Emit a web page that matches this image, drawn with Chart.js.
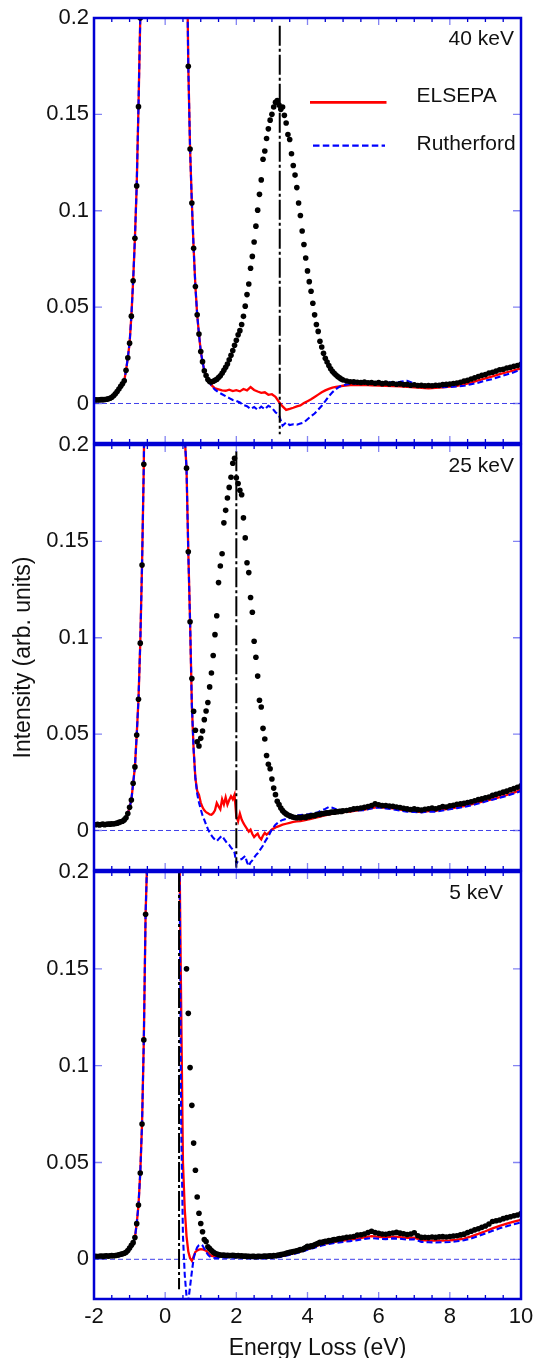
<!DOCTYPE html>
<html>
<head>
<meta charset="utf-8">
<title>Energy loss spectra</title>
<script src="https://cdn.jsdelivr.net/npm/chart.js@4"></script>
<style>
  html, body { margin: 0; padding: 0; background: #fff; }
  #figure { position: relative; width: 534px; height: 1358px; }
  #figure canvas { position: absolute; left: 0; }
</style>
</head>
<body>
<div id="figure">
  <canvas id="panel40" width="534" height="447" style="top:0px"></canvas>
  <canvas id="panel25" width="534" height="439" style="top:435px"></canvas>
  <canvas id="panel5" width="534" height="496" style="top:862px"></canvas>
</div>
<script>
// energy grid of the measured spectra (eV)
var energy = [
  -2, -1.95, -1.9, -1.85, -1.8, -1.75, -1.7, -1.65, -1.6, -1.55,
  -1.5, -1.45, -1.4, -1.35, -1.3, -1.25, -1.2, -1.15, -1.1, -1.05,
  -1, -0.95, -0.9, -0.85, -0.8, -0.75, -0.7, -0.65, -0.6, -0.55,
  -0.5, -0.45, -0.4, -0.35, -0.3, -0.25, -0.2, -0.15, -0.1, -0.05,
  0, 0.05, 0.1, 0.15, 0.2, 0.25, 0.3, 0.35, 0.4, 0.45,
  0.5, 0.55, 0.6, 0.65, 0.7, 0.75, 0.8, 0.85, 0.9, 0.95,
  1, 1.05, 1.1, 1.15, 1.2, 1.25, 1.3, 1.35, 1.4, 1.45,
  1.5, 1.55, 1.6, 1.65, 1.7, 1.75, 1.8, 1.85, 1.9, 1.95,
  2, 2.05, 2.1, 2.15, 2.2, 2.25, 2.3, 2.35, 2.4, 2.45,
  2.5, 2.55, 2.6, 2.65, 2.7, 2.75, 2.8, 2.85, 2.9, 2.95,
  3, 3.05, 3.1, 3.15, 3.2, 3.25, 3.3, 3.35, 3.4, 3.45,
  3.5, 3.55, 3.6, 3.65, 3.7, 3.75, 3.8, 3.85, 3.9, 3.95,
  4, 4.05, 4.1, 4.15, 4.2, 4.25, 4.3, 4.35, 4.4, 4.45,
  4.5, 4.55, 4.6, 4.65, 4.7, 4.75, 4.8, 4.85, 4.9, 4.95,
  5,
  5.1, 5.2, 5.3, 5.4, 5.5, 5.6, 5.7, 5.8, 5.9, 6,
  6.1, 6.2, 6.3, 6.4, 6.5, 6.6, 6.7, 6.8, 6.9, 7,
  7.1, 7.2, 7.3, 7.4, 7.5, 7.6, 7.7, 7.8, 7.9, 8,
  8.1, 8.2, 8.3, 8.4, 8.5, 8.6, 8.7, 8.8, 8.9, 9,
  9.1, 9.2, 9.3, 9.4, 9.5, 9.6, 9.7, 9.8, 9.9, 10
];

// measured intensities, 40 keV
var measured40 = [
  0.0018, 0.0019, 0.0018, 0.0019, 0.0020, 0.0020, 0.0021, 0.0022, 0.0024, 0.0027,
  0.0032, 0.0040, 0.0050, 0.0062, 0.0075, 0.0089, 0.0102, 0.0118, 0.0172, 0.0237,
  0.0313, 0.0453, 0.0637, 0.0857, 0.1129, 0.154, 0.200, 0.27, 0.36, 0.47,
  0.60, 0.75, 0.90, 1.05, 1.20, 1.33, 1.44, 1.52, 1.57, 1.60,
  1.60, 1.57, 1.51, 1.42, 1.30, 1.17, 1.02, 0.87, 0.72, 0.58,
  0.45, 0.34, 0.25, 0.175, 0.132, 0.104, 0.0805, 0.0607, 0.046, 0.036,
  0.027, 0.0217, 0.017, 0.0145, 0.0124, 0.0114, 0.0112, 0.0115, 0.0120, 0.0125,
  0.0135, 0.0144, 0.0157, 0.0172, 0.0188, 0.0205, 0.0227, 0.0250, 0.0275, 0.0302,
  0.0328, 0.0356, 0.0378, 0.0410, 0.0452, 0.0505, 0.0565, 0.0620, 0.0702, 0.0763,
  0.0838, 0.0920, 0.1003, 0.1085, 0.1160, 0.1267, 0.1310, 0.1375, 0.1425, 0.1470,
  0.1500, 0.1538, 0.1563, 0.1572, 0.1548, 0.1526, 0.1538, 0.1495, 0.1455, 0.1395,
  0.1370, 0.1296, 0.1235, 0.1185, 0.1120, 0.1040, 0.0975, 0.0895, 0.0825, 0.0755,
  0.0688, 0.0632, 0.0582, 0.0520, 0.0460, 0.0410, 0.0374, 0.0323, 0.0293, 0.0260,
  0.0235, 0.0215, 0.0197, 0.0180, 0.0167, 0.0157, 0.0148, 0.0140, 0.0133, 0.0127,
  0.0122,
  0.0117, 0.0113, 0.0112, 0.0110, 0.0109, 0.0111, 0.0107, 0.0109, 0.0105, 0.0108,
  0.0103, 0.0106, 0.0101, 0.0104, 0.0100, 0.0102, 0.0098, 0.0099, 0.0095, 0.0097,
  0.0093, 0.0094, 0.0092, 0.0093, 0.0092, 0.0095, 0.0094, 0.0098, 0.0099, 0.0101,
  0.0104, 0.0106, 0.0110, 0.0116, 0.0120, 0.0127, 0.0133, 0.0140, 0.0146, 0.0150,
  0.0158, 0.0162, 0.0168, 0.0175, 0.0178, 0.0184, 0.0188, 0.0193, 0.0197, 0.0203
];

// measured intensities, 25 keV
var measured25 = [
  0.0031, 0.0030, 0.0032, 0.0029, 0.0031, 0.0033, 0.0030, 0.0032, 0.0034, 0.0033,
  0.0035, 0.0034, 0.0036, 0.0038, 0.0042, 0.0045, 0.0048, 0.0055, 0.0066, 0.0088,
  0.0120, 0.0158, 0.0245, 0.0330, 0.0495, 0.0681, 0.0972, 0.1377, 0.190, 0.28,
  0.42, 0.60, 0.82, 1.05, 1.28, 1.50, 1.68, 1.82, 1.92, 1.98,
  2.00, 1.97, 1.90, 1.78, 1.60, 1.38, 1.12, 0.86, 0.62, 0.42,
  0.27, 0.204, 0.188, 0.1446, 0.1083, 0.0788, 0.0619, 0.0520, 0.0460, 0.0438,
  0.0478, 0.0516, 0.0575, 0.0620, 0.0664, 0.0745, 0.0817, 0.0908, 0.1016, 0.1114,
  0.1286, 0.1372, 0.1436, 0.1596, 0.1661, 0.1725, 0.1780, 0.1833, 0.1905, 0.1931,
  0.1830, 0.1800, 0.1765, 0.1742, 0.1622, 0.1518, 0.1389, 0.1338, 0.1209, 0.1132,
  0.0982, 0.0899, 0.0801, 0.0676, 0.0641, 0.0530, 0.0475, 0.0389, 0.0344, 0.0320,
  0.0267, 0.0220, 0.0186, 0.0152, 0.0134, 0.0117, 0.0103, 0.0093, 0.0086, 0.0080,
  0.0076, 0.0072, 0.0069, 0.0067, 0.0066, 0.0068, 0.0066, 0.0069, 0.0070, 0.0068,
  0.0073, 0.0072, 0.0076, 0.0078, 0.0077, 0.0082, 0.0084, 0.0083, 0.0088, 0.0087,
  0.0090, 0.0092, 0.0091, 0.0094, 0.0096, 0.0095, 0.0098, 0.0097, 0.0100, 0.0099,
  0.0102,
  0.0104, 0.0107, 0.0112, 0.0114, 0.0117, 0.0120, 0.0124, 0.0130, 0.0138, 0.0133,
  0.0129, 0.0130, 0.0127, 0.0126, 0.0122, 0.0119, 0.0115, 0.0112, 0.0109, 0.0112,
  0.0108, 0.0106, 0.0110, 0.0113, 0.0117, 0.0113, 0.0118, 0.0124, 0.0122, 0.0128,
  0.0131, 0.0136, 0.0138, 0.0141, 0.0145, 0.0149, 0.0154, 0.0160, 0.0164, 0.0170,
  0.0174, 0.0182, 0.0188, 0.0193, 0.0199, 0.0204, 0.0211, 0.0217, 0.0224, 0.0232
];

// measured intensities, 5 keV
var measured5 = [
  0.0015, 0.0016, 0.0014, 0.0016, 0.0017, 0.0015, 0.0017, 0.0018, 0.0016, 0.0018,
  0.0019, 0.0018, 0.0020, 0.0021, 0.0023, 0.0026, 0.0028, 0.0031, 0.0036, 0.0045,
  0.0058, 0.0072, 0.0086, 0.0112, 0.0184, 0.0280, 0.0446, 0.0699, 0.1133, 0.1782,
  0.21, 0.30, 0.42, 0.56, 0.70, 0.84, 0.95, 1.03, 1.08, 1.10,
  1.08, 1.03, 0.95, 0.85, 0.74, 0.62, 0.50, 0.40, 0.32, 0.27,
  0.24, 0.21, 0.150, 0.127, 0.099, 0.0795, 0.0600, 0.0460, 0.0322, 0.0238,
  0.0185, 0.0142, 0.0102, 0.0092, 0.0065, 0.0055, 0.0045, 0.0037, 0.0031, 0.0027,
  0.0024, 0.0022, 0.0021, 0.0022, 0.0020, 0.0021, 0.0019, 0.0020, 0.0021, 0.0019,
  0.0018, 0.0020, 0.0017, 0.0018, 0.0016, 0.0017, 0.0015, 0.0016, 0.0014, 0.0016,
  0.0015, 0.0013, 0.0015, 0.0016, 0.0014, 0.0016, 0.0017, 0.0015, 0.0017, 0.0018,
  0.0016, 0.0019, 0.0018, 0.0021, 0.0022, 0.0024, 0.0026, 0.0027, 0.0031, 0.0033,
  0.0036, 0.0037, 0.0040, 0.0041, 0.0044, 0.0046, 0.0050, 0.0049, 0.0055, 0.0061,
  0.0067, 0.0064, 0.0070, 0.0068, 0.0075, 0.0079, 0.0082, 0.0088, 0.0086, 0.0091,
  0.0093, 0.0092, 0.0097, 0.0096, 0.0100, 0.0102, 0.0101, 0.0105, 0.0107, 0.0106,
  0.0110,
  0.0113, 0.0115, 0.0118, 0.0125, 0.0127, 0.0131, 0.0138, 0.0145, 0.0138, 0.0134,
  0.0131, 0.0129, 0.0133, 0.0136, 0.0139, 0.0135, 0.0132, 0.0128, 0.0131, 0.0137,
  0.0122, 0.0113, 0.0114, 0.0112, 0.0115, 0.0113, 0.0116, 0.0117, 0.0115, 0.0118,
  0.0120, 0.0122, 0.0126, 0.0130, 0.0138, 0.0145, 0.0152, 0.0158, 0.0165, 0.0172,
  0.0182, 0.0195, 0.0199, 0.0203, 0.0210, 0.0215, 0.0220, 0.0225, 0.0229, 0.0236
];

// model curves after subtraction of the recoil peak (below the first energy they follow the data)
var modelEnergy40 = [
  1.2, 1.3, 1.4, 1.5, 1.6, 1.7, 1.8, 1.9, 2, 2.1,
  2.2, 2.3, 2.4, 2.5, 2.6, 2.7, 2.8, 2.9, 3, 3.1,
  3.2, 3.3, 3.4, 3.5, 3.6, 3.7, 3.8, 3.9, 4, 4.1,
  4.2, 4.3, 4.4, 4.5, 4.6, 4.7, 4.8, 4.9, 5,
  5.2, 5.4, 5.6, 5.8, 6, 6.2, 6.4, 6.6, 6.8, 7,
  7.2, 7.4, 7.6, 7.8, 8, 8.2, 8.4, 8.6, 8.8, 9,
  9.2, 9.4, 9.6, 9.8, 10
];
var elsepa40 = [
  0.0125, 0.0095, 0.0078, 0.0073, 0.0068, 0.0066, 0.0072, 0.0064, 0.0069, 0.0063,
  0.0075, 0.0068, 0.0085, 0.0070, 0.0062, 0.0055, 0.0058, 0.0045, 0.0048, 0.0035,
  0.0008, -0.0015, -0.0033, -0.0028, -0.0022, -0.0015, -0.0010, 0.0002, 0.0012, 0.0022,
  0.0034, 0.0046, 0.0058, 0.0068, 0.0076, 0.0082, 0.0086, 0.0089, 0.0092,
  0.0096, 0.0095, 0.0097, 0.0094, 0.0093, 0.0092, 0.0090, 0.0089, 0.0086, 0.0084,
  0.0081, 0.0079, 0.0081, 0.0084, 0.0087, 0.0091, 0.0099, 0.0108, 0.0120, 0.0130,
  0.0141, 0.0152, 0.0162, 0.0172, 0.0182
];
var rutherford40 = [
  0.0125, 0.0092, 0.0072, 0.0058, 0.0048, 0.0038, 0.0028, 0.0018, 0.0013, 0.0005,
  -0.0008, -0.0014, -0.0028, -0.0018, -0.0033, -0.0016, -0.0030, -0.0012, -0.0022, -0.0045,
  -0.0062, -0.0115, -0.0098, -0.0112, -0.0108, -0.0110, -0.0104, -0.0098, -0.0082, -0.0066,
  -0.0052, -0.0032, -0.0012, 0.0012, 0.0038, 0.0058, 0.0075, 0.0087, 0.0095,
  0.0102, 0.0104, 0.0106, 0.0104, 0.0107, 0.0109, 0.0110, 0.0112, 0.0118, 0.0104,
  0.0094, 0.0089, 0.0088, 0.0085, 0.0086, 0.0088, 0.0092, 0.0100, 0.0108, 0.0118,
  0.0127, 0.0139, 0.0150, 0.0162, 0.0176
];

var modelEnergy25 = [
  0.75, 0.8, 0.85, 0.9, 0.95, 1, 1.05, 1.1, 1.15, 1.2,
  1.25, 1.3, 1.35, 1.4, 1.45, 1.5, 1.55, 1.6, 1.65, 1.7,
  1.75, 1.8, 1.85, 1.9, 1.95, 2, 2.05, 2.1, 2.15, 2.2,
  2.25, 2.3, 2.35, 2.4, 2.45, 2.5, 2.55, 2.6, 2.65, 2.7,
  2.75, 2.8, 2.85, 2.9, 2.95, 3,
  3.1, 3.2, 3.3, 3.4, 3.5, 3.6, 3.7, 3.8, 3.9, 4,
  4.1, 4.2, 4.3, 4.4, 4.5, 4.6, 4.7, 4.8, 4.9, 5,
  5.2, 5.4, 5.6, 5.8, 6, 6.2, 6.4, 6.6, 6.8, 7,
  7.2, 7.4, 7.6, 7.8, 8, 8.2, 8.4, 8.6, 8.8, 9,
  9.2, 9.4, 9.6, 9.8, 10
];
var elsepa25 = [
  0.065, 0.042, 0.027, 0.0205, 0.0185, 0.0145, 0.0120, 0.0105, 0.0095, 0.0090,
  0.0083, 0.0082, 0.0090, 0.0105, 0.0143, 0.0125, 0.0110, 0.0162, 0.0135, 0.0172,
  0.0134, 0.0158, 0.0178, 0.0162, 0.0186, 0.0072, 0.0048, 0.0088, 0.0057, 0.0038,
  0.0022, 0.0008, -0.0006, 0.0004, -0.0018, -0.0034, -0.0024, -0.0016, -0.0036, -0.0046,
  -0.0026, -0.0012, -0.0022, -0.0014, -0.0004, 0.0005,
  0.0016, 0.0023, 0.0030, 0.0035, 0.0040, 0.0045, 0.0047, 0.0049, 0.0053, 0.0057,
  0.0060, 0.0065, 0.0069, 0.0074, 0.0079, 0.0083, 0.0086, 0.0090, 0.0093, 0.0095,
  0.0098, 0.0104, 0.0108, 0.0116, 0.0122, 0.0118, 0.0115, 0.0108, 0.0102, 0.0099,
  0.0096, 0.0101, 0.0102, 0.0108, 0.0114, 0.0120, 0.0127, 0.0135, 0.0144, 0.0153,
  0.0163, 0.0173, 0.0184, 0.0196, 0.0212
];
var rutherford25 = [
  0.065, 0.042, 0.027, 0.0190, 0.0145, 0.0110, 0.0078, 0.0055, 0.0030, 0.0008,
  -0.0012, -0.0025, -0.0038, -0.0048, -0.0055, -0.0045, -0.0035, -0.0028, -0.0042, -0.0055,
  -0.0068, -0.0075, -0.0089, -0.0098, -0.0115, -0.0172, -0.0158, -0.0152, -0.0148, -0.0140,
  -0.0132, -0.0165, -0.0184, -0.0165, -0.0155, -0.0141, -0.0128, -0.0118, -0.0105, -0.0092,
  -0.0078, -0.0060, -0.0045, -0.0030, -0.0012, 0.0005,
  0.0030, 0.0045, 0.0055, 0.0060, 0.0065, 0.0068, 0.0078, 0.0080, 0.0082, 0.0083,
  0.0088, 0.0090, 0.0095, 0.0105, 0.0112, 0.0122, 0.0118, 0.0110, 0.0106, 0.0104,
  0.0103, 0.0104, 0.0106, 0.0114, 0.0120, 0.0114, 0.0110, 0.0104, 0.0098, 0.0096,
  0.0094, 0.0098, 0.0098, 0.0104, 0.0110, 0.0116, 0.0122, 0.0130, 0.0140, 0.0150,
  0.0160, 0.0170, 0.0180, 0.0192, 0.0205
];

var modelEnergy5 = [
  0.35, 0.4, 0.45, 0.5, 0.55, 0.6, 0.65, 0.7, 0.75, 0.8,
  0.85, 0.9, 0.95, 1, 1.05, 1.1, 1.15, 1.2, 1.25, 1.3,
  1.4, 1.6, 1.8, 2, 2.2, 2.4, 2.6, 2.8, 3, 3.2,
  3.4, 3.6, 3.8, 4, 4.2, 4.4, 4.6, 4.8, 5, 5.2,
  5.4, 5.6, 5.8, 6, 6.2, 6.4, 6.6, 6.8, 7, 7.2,
  7.4, 7.6, 7.8, 8, 8.2, 8.4, 8.6, 8.8, 9, 9.2,
  9.4, 9.6, 9.8, 10
];
var elsepa5 = [
  0.30, 0.215, 0.13, 0.05, 0.026, 0.012, 0.004, 0.0005, -0.0008, 0.0015,
  0.0038, 0.0046, 0.0050, 0.0052, 0.0051, 0.0048, 0.0044, 0.0033, 0.0025, 0.0018,
  0.0015, 0.0014, 0.0013, 0.0013, 0.0011, 0.0010, 0.0009, 0.0010, 0.0011, 0.0014,
  0.0022, 0.0031, 0.0041, 0.0053, 0.0066, 0.0077, 0.0085, 0.0091, 0.0097, 0.0102,
  0.0107, 0.0113, 0.0120, 0.0116, 0.0113, 0.0117, 0.0115, 0.0111, 0.0112, 0.0099,
  0.0096, 0.0096, 0.0096, 0.0098, 0.0101, 0.0107, 0.0118, 0.0131, 0.0145, 0.0160,
  0.0173, 0.0184, 0.0195, 0.0204
];
var rutherford5 = [
  0.30, 0.215, 0.07, 0.012, -0.008, -0.019, -0.0215, -0.014, -0.0065, 0.0005,
  0.0038, 0.0062, 0.0073, 0.0077, 0.0071, 0.0055, 0.0039, 0.0024, 0.0015, 0.0010,
  0.0007, 0.0008, 0.0008, 0.0009, 0.0007, 0.0006, 0.0005, 0.0006, 0.0008, 0.0011,
  0.0019, 0.0027, 0.0037, 0.0049, 0.0060, 0.0071, 0.0079, 0.0085, 0.0090, 0.0094,
  0.0099, 0.0105, 0.0110, 0.0106, 0.0104, 0.0108, 0.0106, 0.0102, 0.0103, 0.0090,
  0.0088, 0.0087, 0.0088, 0.0089, 0.0093, 0.0098, 0.0108, 0.0120, 0.0133, 0.0147,
  0.0160, 0.0171, 0.0181, 0.0190
];

// panel annotations
var panelLabels = ['40 keV', '25 keV', '5 keV'];
var recoilEnergies = [3.22, 2.0, 0.39];      // dash-dot markers (eV)
var markerTop = [0.196, 0.1967, 0.2];
var markerBottom = [-0.016, -0.0193, -0.0155];
var legendLabels = ['ELSEPA', 'Rutherford'];
var xTickValues = [-2, 0, 2, 4, 6, 8, 10];
var yTickValues = [0, 0.05, 0.1, 0.15, 0.2];

var FONT = '"Liberation Sans", Arial, Helvetica, sans-serif';
var FRAME_BLUE = '#0000d4';
var TICK_LIGHT = 'rgba(50, 50, 235, 0.6)';
var TEXT = '#111';

Chart.defaults.font.family = FONT;

function panelDecor(index) {
    return {
        id: 'decor' + index,
        beforeDatasetsDraw: function (chart) {
            var ctx = chart.ctx, a = chart.chartArea, y = chart.scales.y;
            var y0 = y.getPixelForValue(0);
            ctx.save();
            ctx.strokeStyle = 'rgba(30, 30, 230, 0.85)';
            ctx.lineWidth = 1;
            ctx.setLineDash([5, 3]);
            ctx.beginPath();
            ctx.moveTo(a.left, y0);
            ctx.lineTo(a.right, y0);
            ctx.stroke();
            ctx.restore();
        },
        afterDatasetsDraw: function (chart) {
            var ctx = chart.ctx, x = chart.scales.x, y = chart.scales.y;
            var px = x.getPixelForValue(recoilEnergies[index]);
            ctx.save();
            ctx.strokeStyle = '#000';
            ctx.lineWidth = 2;
            ctx.setLineDash([20, 3, 3, 3]);
            ctx.beginPath();
            ctx.moveTo(px, y.getPixelForValue(markerTop[index]));
            ctx.lineTo(px, y.getPixelForValue(markerBottom[index]));
            ctx.stroke();
            ctx.restore();
        },
        afterDraw: function (chart) {
            var ctx = chart.ctx, a = chart.chartArea, x = chart.scales.x, y = chart.scales.y;
            ctx.save();
            // inward ticks on all four sides
            ctx.lineWidth = 1.3;
            for (var e = -1.5; e < 10; e += 0.5) {
                var px = x.getPixelForValue(e);
                var major = Math.abs(e % 2) < 1e-9;
                var len = major ? 7 : 4;
                ctx.strokeStyle = major ? TICK_LIGHT : FRAME_BLUE;
                ctx.beginPath();
                ctx.moveTo(px, a.bottom); ctx.lineTo(px, a.bottom - len);
                ctx.moveTo(px, a.top); ctx.lineTo(px, a.top + len);
                ctx.stroke();
            }
            ctx.strokeStyle = TICK_LIGHT;
            yTickValues.forEach(function (v) {
                if (v >= 0.2) return;
                var py = y.getPixelForValue(v);
                ctx.beginPath();
                ctx.moveTo(a.left, py); ctx.lineTo(a.left + 8, py);
                ctx.moveTo(a.right, py); ctx.lineTo(a.right - 8, py);
                ctx.stroke();
            });
            // frame
            ctx.strokeStyle = FRAME_BLUE;
            ctx.lineWidth = 2.5;
            ctx.strokeRect(a.left, a.top, a.right - a.left, a.bottom - a.top);

            // beam energy label
            ctx.fillStyle = TEXT;
            ctx.font = '21px ' + FONT;
            ctx.textAlign = 'right';
            ctx.textBaseline = 'alphabetic';
            ctx.fillText(panelLabels[index], a.right - (index === 2 ? 18 : 7), a.top + 27);

            if (index === 0) {
                // legend
                ctx.textAlign = 'left';
                ctx.fillText(legendLabels[0], 416.5, a.top + 83.5);
                ctx.fillText(legendLabels[1], 416.5, a.top + 132);
                ctx.lineWidth = 2.7;
                ctx.strokeStyle = '#ff0000';
                ctx.beginPath(); ctx.moveTo(310, a.top + 84.3); ctx.lineTo(386.5, a.top + 84.3); ctx.stroke();
                ctx.lineWidth = 2.2;
                ctx.strokeStyle = '#0000ff';
                ctx.setLineDash([6.5, 3.3]);
                ctx.beginPath(); ctx.moveTo(313, a.top + 127.7); ctx.lineTo(385, a.top + 127.7); ctx.stroke();
                ctx.setLineDash([]);
            }
            if (index === 2) {
                ctx.font = '23px ' + FONT;
                ctx.textAlign = 'center';
                ctx.fillText('Energy Loss (eV)', 317.5, a.bottom + 56);
            }
            ctx.restore();
        }
    };
}

function buildPanel(canvasId, index, measured, modelEnergy, elsepa, rutherford, opts) {
    var expPts = energy.map(function (e, i) { return { x: e, y: measured[i] }; });
    // the model curves coincide with the data on the elastic peak
    var shared = expPts.filter(function (p) { return p.x < modelEnergy[0] - 1e-6; });
    var elsepaPts = shared.concat(modelEnergy.map(function (e, i) { return { x: e, y: elsepa[i] }; }));
    var rutherfordPts = shared.concat(modelEnergy.map(function (e, i) { return { x: e, y: rutherford[i] }; }));

    var ctx = document.getElementById(canvasId).getContext('2d');
    return new Chart(ctx, {
        type: 'line',
        data: {
            datasets: [{
                label: 'Experiment',
                data: expPts,
                showLine: false,
                pointRadius: 2.8,
                pointBackgroundColor: '#000',
                pointBorderWidth: 0,
                clip: 1
            }, {
                label: legendLabels[1],
                data: rutherfordPts,
                borderColor: '#0000ff',
                borderWidth: 2.1,
                borderDash: [6, 3],
                pointRadius: 0,
                tension: 0,
                clip: 1
            }, {
                label: legendLabels[0],
                data: elsepaPts,
                borderColor: '#ff0000',
                borderWidth: 2.3,
                pointRadius: 0,
                tension: 0,
                clip: 1
            }]
        },
        options: {
            responsive: false,
            animation: false,
            devicePixelRatio: 1,
            events: [],
            layout: { padding: { left: 0, right: 13, top: opts.padTop, bottom: opts.padBottom } },
            plugins: { legend: { display: false }, tooltip: { enabled: false } },
            scales: {
                x: {
                    type: 'linear',
                    min: -2,
                    max: 10,
                    display: opts.showX,
                    afterBuildTicks: function (s) { s.ticks = xTickValues.map(function (v) { return { value: v }; }); },
                    afterFit: function (s) { s.height = opts.xHeight; s.paddingLeft = 0; s.paddingRight = 0; },
                    grid: { display: false, drawTicks: false },
                    border: { display: false },
                    ticks: {
                        font: { size: 22 },
                        color: TEXT,
                        padding: 5,
                        maxRotation: 0,
                        autoSkip: false,
                        callback: function (v) { return String(v); }
                    }
                },
                y: {
                    type: 'linear',
                    min: -0.0205,
                    max: 0.2,
                    afterBuildTicks: function (s) { s.ticks = yTickValues.map(function (v) { return { value: v }; }); },
                    afterFit: function (s) { s.width = 94; s.paddingTop = 0; s.paddingBottom = 0; },
                    grid: { display: false, drawTicks: false },
                    border: { display: false },
                    ticks: {
                        font: { size: 22 },
                        color: TEXT,
                        padding: 5,
                        autoSkip: false,
                        callback: function (v) { return String(v); }
                    },
                    title: {
                        display: opts.showYTitle,
                        text: 'Intensity (arb. units)',
                        font: { size: 23 },
                        color: TEXT,
                        padding: { top: 10, bottom: 0 }
                    }
                }
            }
        },
        plugins: [panelDecor(index)]
    });
}

buildPanel('panel40', 0, measured40, modelEnergy40, elsepa40, rutherford40,
    { padTop: 18, padBottom: 2, showX: false, xHeight: 0, showYTitle: false });
buildPanel('panel25', 1, measured25, modelEnergy25, elsepa25, rutherford25,
    { padTop: 10, padBottom: 2, showX: false, xHeight: 0, showYTitle: true });
buildPanel('panel5', 2, measured5, modelEnergy5, elsepa5, rutherford5,
    { padTop: 10, padBottom: 0, showX: true, xHeight: 59, showYTitle: false });
</script>
</body>
</html>
